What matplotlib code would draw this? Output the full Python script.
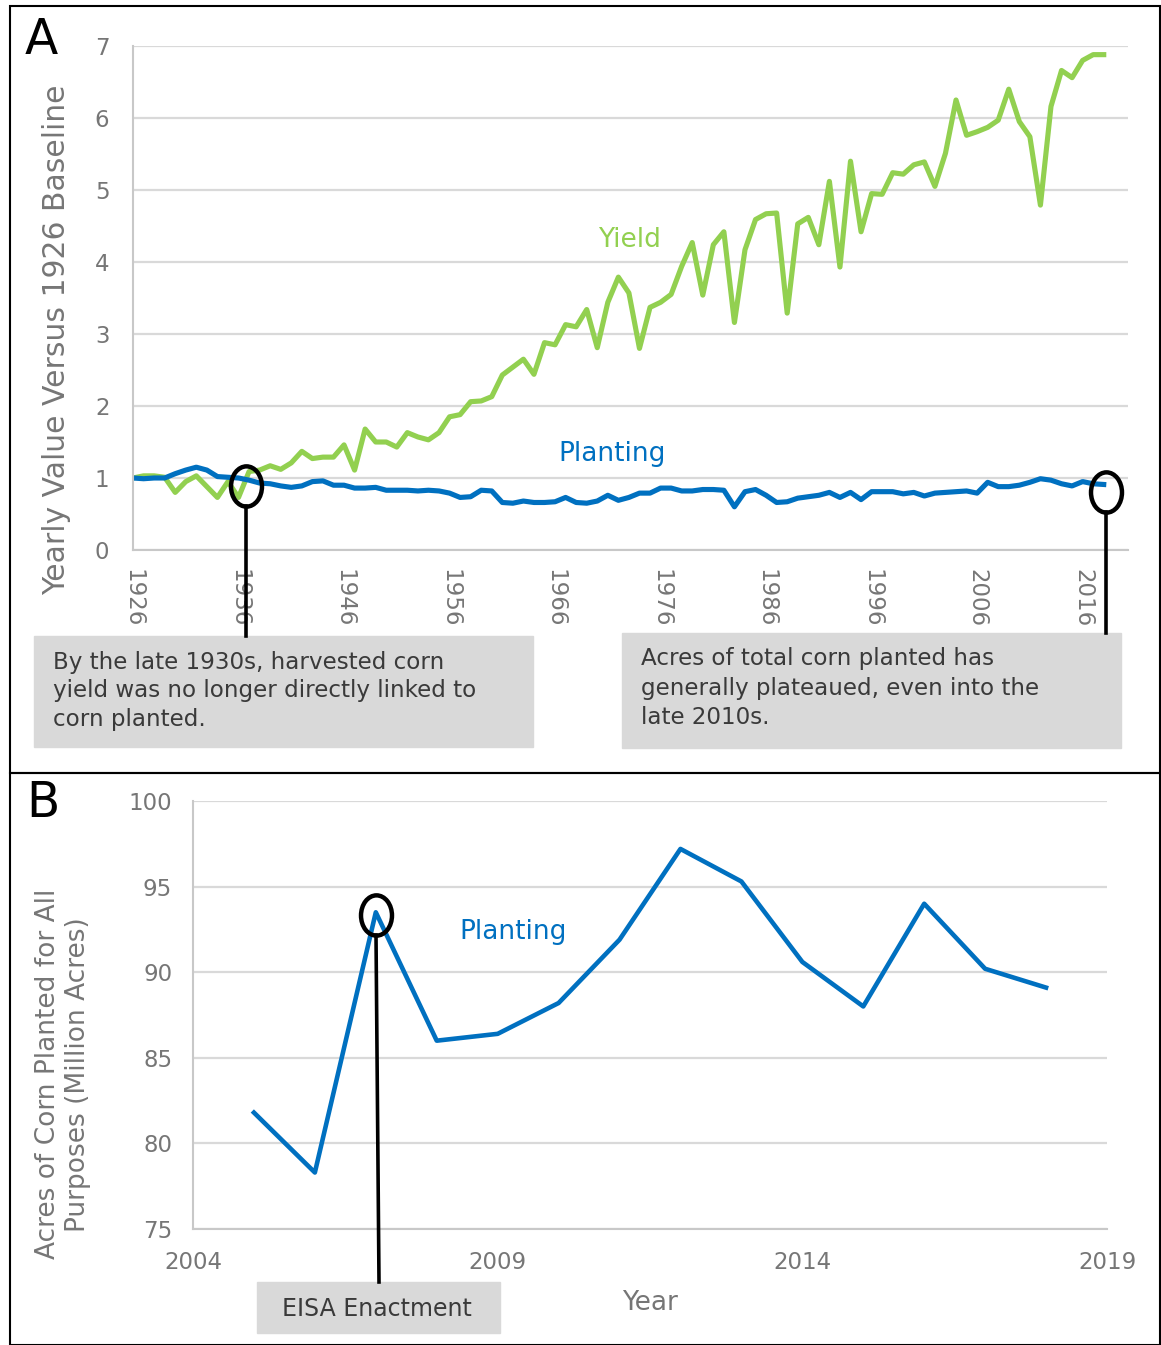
import numpy as np
import matplotlib.pyplot as plt
from matplotlib.patches import Rectangle
from matplotlib.lines import Line2D
from matplotlib.path import Path
from matplotlib.transforms import Affine2D

# ---- data: panel A (relative to 1926) ----
years_a = list(range(1926, 2019))
yield_rel = [1.00, 1.03, 1.03, 1.01, 0.80, 0.95, 1.03, 0.88, 0.73, 0.95,
             0.73, 1.09, 1.11, 1.17, 1.12, 1.21, 1.37, 1.27, 1.29, 1.29,
             1.46, 1.11, 1.68, 1.50, 1.50, 1.43, 1.63, 1.57, 1.53, 1.63,
             1.85, 1.88, 2.06, 2.07, 2.13, 2.43, 2.54, 2.65, 2.44, 2.88,
             2.85, 3.13, 3.10, 3.34, 2.81, 3.44, 3.79, 3.57, 2.80, 3.37,
             3.44, 3.55, 3.94, 4.27, 3.54, 4.24, 4.42, 3.16, 4.17, 4.59,
             4.67, 4.68, 3.29, 4.53, 4.62, 4.24, 5.12, 3.93, 5.40, 4.42,
             4.95, 4.94, 5.24, 5.22, 5.35, 5.39, 5.05, 5.51, 6.25, 5.76,
             5.81, 5.87, 5.97, 6.40, 5.95, 5.74, 4.79, 6.16, 6.66, 6.56,
             6.80, 6.88, 6.88]
planting_rel = [1.00, 0.99, 1.00, 1.00, 1.06, 1.11, 1.15, 1.11, 1.02, 1.01,
                1.00, 0.97, 0.93, 0.92, 0.89, 0.87, 0.89, 0.95, 0.96, 0.90,
                0.90, 0.86, 0.86, 0.87, 0.83, 0.83, 0.83, 0.82, 0.83, 0.82,
                0.79, 0.73, 0.74, 0.83, 0.82, 0.66, 0.65, 0.68, 0.66, 0.66,
                0.67, 0.73, 0.66, 0.65, 0.68, 0.76, 0.69, 0.73, 0.79, 0.79,
                0.86, 0.86, 0.82, 0.82, 0.84, 0.84, 0.83, 0.60, 0.81, 0.84,
                0.76, 0.66, 0.67, 0.72, 0.74, 0.76, 0.80, 0.73, 0.80, 0.70,
                0.81, 0.81, 0.81, 0.78, 0.80, 0.75, 0.79, 0.80, 0.81, 0.82,
                0.79, 0.94, 0.88, 0.88, 0.90, 0.94, 0.99, 0.97, 0.92, 0.89,
                0.95, 0.92, 0.91]
ticks_a = list(range(1926, 2017, 10))

# ---- data: panel B (million acres) ----
years_b = list(range(2005, 2019))
acres_b = [81.8, 78.3, 93.5, 86.0, 86.4, 88.2, 91.9, 97.2, 95.3, 90.6,
           88.0, 94.0, 90.2, 89.1]
ticks_b = [2004, 2009, 2014, 2019]

note_a1 = ["By the late 1930s, harvested corn",
           "yield was no longer directly linked to",
           "corn planted."]
note_a2 = ["Acres of total corn planted has",
           "generally plateaued, even into the",
           "late 2010s."]
note_b = "EISA Enactment"

GREEN = '#92d050'
BLUE = '#0070c0'
GRID = '#d9d9d9'
TXT = '#767676'
BOXC = '#d9d9d9'
NOTE = '#3a3a3a'

plt.rcParams['font.family'] = ['DejaVu Sans']

W, H = 1161, 1345
fig = plt.figure(figsize=(W / 100, H / 100), dpi=100)


def rect(l, t, r, b):
    return [l / W, 1 - b / H, (r - l) / W, (b - t) / H]


def fx(x):
    return x / W


def fy(y):
    return 1 - y / H


# ellipse marker for the callout circles
ell = Path.unit_circle().transformed(Affine2D().scale(1.0, 1.3))


def style_axes(ax):
    for s in ['top', 'right']:
        ax.spines[s].set_visible(False)
    for s in ['left', 'bottom']:
        ax.spines[s].set_color('#c8c8c8')
        ax.spines[s].set_linewidth(1.5)
    ax.grid(axis='y', color=GRID, lw=1.6)
    ax.set_axisbelow(True)
    ax.tick_params(length=0, labelsize=16.5, labelcolor=TXT)


# ---- panel borders ----
fig.add_artist(Rectangle((fx(10), fy(773)), fx(1150), (767) / H, fill=False,
                         ec='black', lw=1.5, transform=fig.transFigure))
fig.add_artist(Rectangle((fx(10), fy(1345)), fx(1150), (572) / H, fill=False,
                         ec='black', lw=1.5, transform=fig.transFigure))

# ---- panel A ----
ax = fig.add_axes(rect(133, 46, 1128, 550))
ax.plot(years_a, yield_rel, color=GREEN, lw=3.7, solid_joinstyle='round')
ax.plot(years_a, planting_rel, color=BLUE, lw=3.7, solid_joinstyle='round')
ax.set_xlim(1926, 2020.3)
ax.set_ylim(0, 7)
ax.set_yticks(range(0, 8))
ax.set_xticks(ticks_a)
ax.set_xticklabels([str(t) for t in ticks_a], rotation=-90, va='top')
style_axes(ax)
ax.tick_params(axis='y', pad=17)
ax.tick_params(axis='x', pad=14)
ax.text(1973.1, 4.31, 'Yield', color=GREEN, fontsize=19, ha='center', va='center')
ax.text(1971.4, 1.33, 'Planting', color=BLUE, fontsize=19, ha='center', va='center')
ax.plot([1936.7], [0.89], marker=ell, ms=29, mfc='none', mec='black', mew=3.2)
ax.plot([2018.2], [0.81], marker=ell, ms=29, mfc='none', mec='black', mew=3.2)

fig.text(fx(57), fy(340), 'Yearly Value Versus 1926 Baseline', rotation=90,
         ha='center', va='center', fontsize=21.5, color=TXT)
fig.text(fx(41), fy(40), 'A', ha='center', va='center', fontsize=35)

# connectors and notes for panel A
fig.add_artist(Line2D([fx(246), fx(246)], [fy(506), fy(636)], color='black', lw=2.6))
fig.add_artist(Line2D([fx(1106), fx(1106)], [fy(512), fy(633)], color='black', lw=2.6))
fig.add_artist(Rectangle((fx(34), fy(747)), fx(499), 111 / H, color=BOXC,
                         transform=fig.transFigure))
fig.add_artist(Rectangle((fx(622), fy(748)), fx(499), 115 / H, color=BOXC,
                         transform=fig.transFigure))
for i, line in enumerate(note_a1):
    fig.text(fx(53), fy(662 + 29 * i), line, ha='left', va='center',
             fontsize=16.6, color=NOTE)
for i, line in enumerate(note_a2):
    fig.text(fx(641), fy(659 + 29 * i), line, ha='left', va='center',
             fontsize=16.6, color=NOTE)

# ---- panel B ----
bx = fig.add_axes(rect(193, 801, 1107, 1229))
bx.plot(years_b, acres_b, color=BLUE, lw=3.3, solid_joinstyle='round')
bx.set_xlim(2004, 2019)
bx.set_ylim(75, 100)
bx.set_yticks(range(75, 101, 5))
bx.set_xticks(ticks_b)
style_axes(bx)
bx.tick_params(axis='y', pad=15)
bx.tick_params(axis='x', pad=16)
bx.text(2009.25, 92.35, 'Planting', color=BLUE, fontsize=19, ha='center', va='center')
bx.plot([2007], [93.35], marker=ell, ms=29, mfc='none', mec='black', mew=3.2)
bx.set_xlabel('Year', fontsize=19, color=TXT, labelpad=11)

fig.text(fx(48), fy(1074), 'Acres of Corn Planted for All', rotation=90,
         ha='center', va='center', fontsize=19, color=TXT)
fig.text(fx(78), fy(1075), 'Purposes (Million Acres)', rotation=90,
         ha='center', va='center', fontsize=19, color=TXT)
fig.text(fx(43), fy(803), 'B', ha='center', va='center', fontsize=35)

fig.add_artist(Line2D([fx(376), fx(379)], [fy(935), fy(1282)], color='black', lw=2.6))
fig.add_artist(Rectangle((fx(257), fy(1333)), fx(243), 51 / H, color=BOXC,
                         transform=fig.transFigure))
fig.text(fx(377), fy(1309), note_b, ha='center', va='center', fontsize=17,
         color=NOTE)

fig.savefig('out.png', dpi=100)
